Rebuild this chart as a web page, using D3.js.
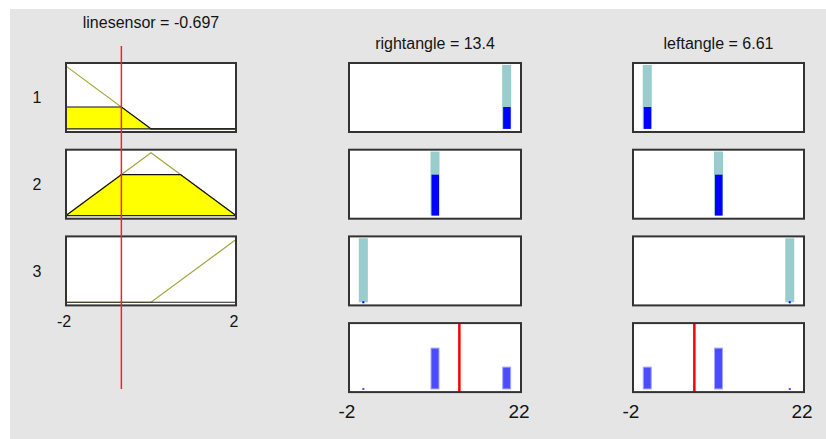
<!DOCTYPE html>
<html><head><meta charset="utf-8">
<script src="https://cdn.jsdelivr.net/npm/d3@7"></script>
<style>
body{margin:0;background:#fff}
text{font-family:"Liberation Sans",Arial,sans-serif;fill:#141414}
</style>
</head><body><svg id="c" width="826" height="439"></svg>
<script>
// ---------- data ----------
const inputName = "linesensor";
const inputValue = -0.697;
const inputRange = [-2, 2];
const inputTicks = [-2, 2];
const mfX = [-2, 0, 2];
const mf1 = [1, 0, 0];
const mf2 = [0, 1, 0];
const mf3 = [0, 0, 1];
const ruleLabels = ["1", "2", "3"];
const ruleStrength = [0.3485, 0.6515, 0];
const outputNames = ["rightangle", "leftangle"];
const outputValues = [13.4, 6.61];
const outputRange = [-2, 22];
const outputTicks = [-2, 22];
const rightangleMF = [20, 10, 0];
const leftangleMF = [0, 10, 20];

// ---------- layout ----------
const svg = d3.select("#c");
svg.append("rect").attr("x", 10).attr("y", 9).attr("width", 816).attr("height", 430).attr("fill", "#e5e5e5");

const rowTop = i => 63 + i * 86.7;
const rowH = 69;
const inCol = [66, 236];
const outCols = [[349, 521], [633, 804]];
const yS = d3.scaleLinear().domain([-0.05, 1.05]);

const xIn = d3.scaleLinear().domain(inputRange).range(inCol);
const mfs = [mf1, mf2, mf3];
const interp = (ys, x) => {
  for (let k = 0; k < mfX.length - 1; k++) {
    if (x >= mfX[k] && x <= mfX[k + 1]) {
      const t = (x - mfX[k]) / (mfX[k + 1] - mfX[k]);
      return ys[k] + t * (ys[k + 1] - ys[k]);
    }
  }
  return 0;
};
const xs = d3.range(inputRange[0], inputRange[1] + 1e-9, 0.01);

function box(g, x0, x1, top) {
  g.append("rect").attr("x", x0).attr("y", top).attr("width", x1 - x0).attr("height", rowH).attr("fill", "#fff");
}
function border(g, x0, x1, top) {
  g.append("rect").attr("x", x0).attr("y", top).attr("width", x1 - x0).attr("height", rowH)
    .attr("fill", "none").attr("stroke", "#333").attr("stroke-width", 2);
}

// input panels
mfs.forEach((ys, i) => {
  const top = rowTop(i);
  const y = yS.copy().range([top + rowH, top]);
  const g = svg.append("g");
  box(g, inCol[0], inCol[1], top);
  g.append("path").datum(mfX.map((x, k) => [x, ys[k]]))
    .attr("d", d3.line().x(d => xIn(d[0])).y(d => y(d[1])))
    .attr("fill", "none").attr("stroke", "#a3a33a").attr("stroke-width", 1.2);
  const w = ruleStrength[i];
  const clipped = xs.map(x => [x, Math.min(interp(ys, x), w)]);
  if (w > 0) {
    g.append("path").datum(clipped)
      .attr("d", d3.area().x(d => xIn(d[0])).y0(y(0)).y1(d => y(d[1])))
      .attr("fill", "#ffff00");
    g.append("path").datum(clipped)
      .attr("d", d3.line().x(d => xIn(d[0])).y(d => y(d[1])))
      .attr("fill", "none").attr("stroke", "#111").attr("stroke-width", 1.2);
  }
  g.append("line").attr("x1", inCol[0]).attr("x2", inCol[1]).attr("y1", y(0)).attr("y2", y(0))
    .attr("stroke", "#222").attr("stroke-width", 1.2);
  border(g, inCol[0], inCol[1], top);
  svg.append("text").attr("x", 37).attr("y", top + rowH / 2).attr("dy", "0.36em")
    .attr("text-anchor", "middle").style("font-size", "16px").text(ruleLabels[i]);
});

// input axis labels + title + red line
svg.append("g").selectAll("text").data(inputTicks).join("text")
  .attr("x", d => xIn(d) - 2).attr("y", 327).attr("text-anchor", "middle")
  .style("font-size", "16px").text(d => d);
svg.append("text").attr("x", (inCol[0] + inCol[1]) / 2).attr("y", 28).attr("text-anchor", "middle")
  .style("font-size", "16px").text(`${inputName} = ${inputValue}`);
svg.append("line").attr("x1", xIn(inputValue)).attr("x2", xIn(inputValue)).attr("y1", 46).attr("y2", 389)
  .attr("stroke", "#ff2020").attr("stroke-width", 1.5);

// output panels
const outMFs = [rightangleMF, leftangleMF];
outCols.forEach((col, c) => {
  const xO = d3.scaleLinear().domain(outputRange).range(col);
  const mf = outMFs[c];
  mf.forEach((v, i) => {
    const top = rowTop(i);
    const y = yS.copy().range([top + rowH, top]);
    const g = svg.append("g");
    box(g, col[0], col[1], top);
    g.append("rect").attr("x", xO(v) - 4.5).attr("width", 9)
      .attr("y", y(1.02)).attr("height", y(0) - y(1.02)).attr("fill", "#99cccc");
    const w = ruleStrength[i];
    const hgt = Math.max(y(0) - y(w), 2);
    g.append("rect").attr("x", xO(v) - (w > 0 ? 3.5 : 1)).attr("width", w > 0 ? 7.5 : 2)
      .attr("y", y(0) - hgt + (w > 0 ? 0 : 1)).attr("height", hgt).attr("fill", "#0000ff");
    border(g, col[0], col[1], top);
  });
  // aggregate row
  const top = rowTop(3);
  const y = yS.copy().range([top + rowH, top]);
  const g = svg.append("g");
  box(g, col[0], col[1], top);
  mf.forEach((v, i) => {
    const w = ruleStrength[i];
    if (w > 0) {
      g.append("rect").attr("x", xO(v) - 4).attr("width", 8)
        .attr("y", y(w)).attr("height", y(0) - y(w))
        .attr("fill", "#4c4cff").attr("stroke", "#a8a8ff").attr("stroke-width", 1);
    } else {
      g.append("rect").attr("x", xO(v) - 1).attr("width", 2)
        .attr("y", y(0) - 1).attr("height", 2).attr("fill", "#4c4cff");
    }
  });
  g.append("line").attr("x1", xO(outputValues[c])).attr("x2", xO(outputValues[c]))
    .attr("y1", top).attr("y2", top + rowH).attr("stroke", "#ff0000").attr("stroke-width", 2.5);
  border(g, col[0], col[1], top);
  svg.append("g").selectAll("text").data(outputTicks).join("text")
    .attr("x", d => xO(d) - 2).attr("y", 418).attr("text-anchor", "middle")
    .style("font-size", "19px").text(d => d);
  svg.append("text").attr("x", (col[0] + col[1]) / 2).attr("y", 48.5).attr("text-anchor", "middle")
    .style("font-size", "16px").text(`${outputNames[c]} = ${outputValues[c]}`);
});
</script>
</body></html>
